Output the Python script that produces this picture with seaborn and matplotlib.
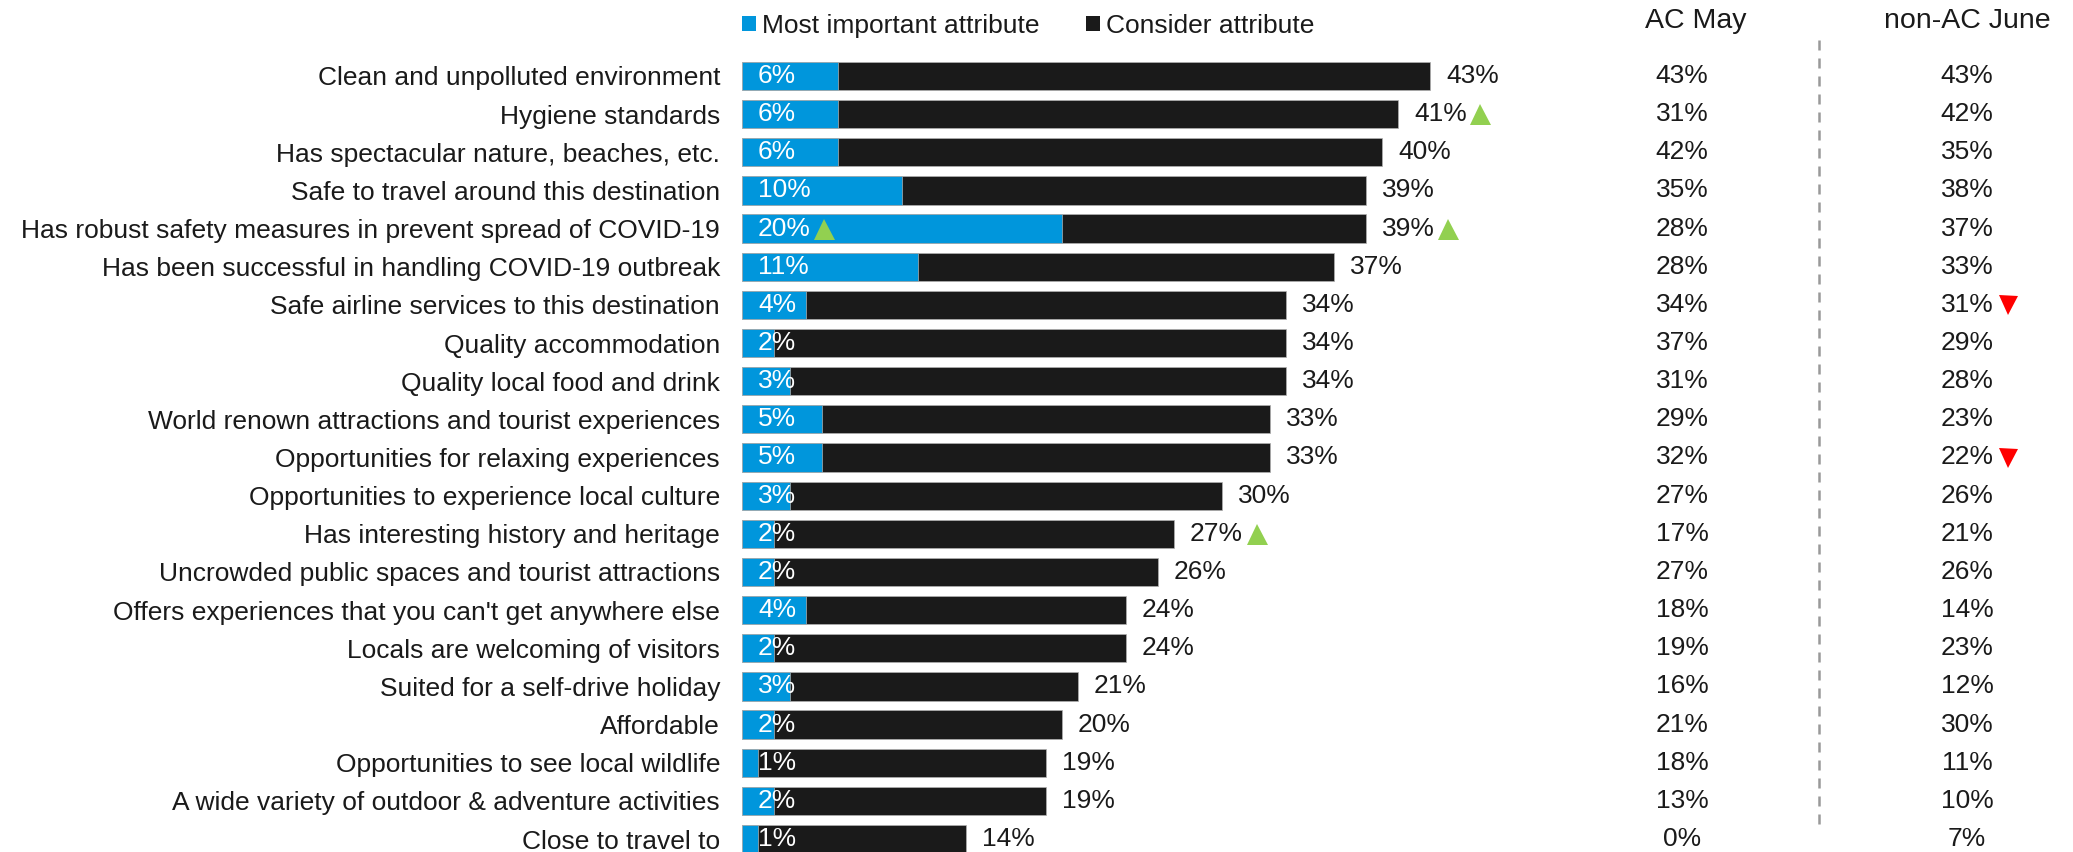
import matplotlib
matplotlib.use("Agg")
import matplotlib.pyplot as plt
from matplotlib.patches import Patch
from matplotlib.lines import Line2D
from matplotlib.transforms import blended_transform_factory
import seaborn as sns
import pandas as pd

# ---- data -----------------------------------------------------------------
attributes = [
    "Clean and unpolluted environment",
    "Hygiene standards",
    "Has spectacular nature, beaches, etc.",
    "Safe to travel around this destination",
    "Has robust safety measures in prevent spread of COVID-19",
    "Has been successful in handling COVID-19 outbreak",
    "Safe airline services to this destination",
    "Quality accommodation",
    "Quality local food and drink",
    "World renown attractions and tourist experiences",
    "Opportunities for relaxing experiences",
    "Opportunities to experience local culture",
    "Has interesting history and heritage",
    "Uncrowded public spaces and tourist attractions",
    "Offers experiences that you can't get anywhere else",
    "Locals are welcoming of visitors",
    "Suited for a self-drive holiday",
    "Affordable",
    "Opportunities to see local wildlife",
    "A wide variety of outdoor & adventure activities",
    "Close to travel to",
]
most_important = [6, 6, 6, 10, 20, 11, 4, 2, 3, 5, 5, 3, 2, 2, 4, 2, 3, 2, 1, 2, 1]
consider = [43, 41, 40, 39, 39, 37, 34, 34, 34, 33, 33, 30, 27, 26, 24, 24, 21, 20, 19, 19, 14]
ac_may = [43, 31, 42, 35, 28, 28, 34, 37, 31, 29, 32, 27, 17, 27, 18, 19, 16, 21, 18, 13, 0]
non_ac_june = [43, 42, 35, 38, 37, 33, 31, 29, 28, 23, 22, 26, 21, 26, 14, 23, 12, 30, 11, 10, 7]

# significance flags: +1 significantly higher, -1 significantly lower
most_flag = [0, 0, 0, 0, 1, 0, 0, 0, 0, 0, 0, 0, 0, 0, 0, 0, 0, 0, 0, 0, 0]
consider_flag = [0, 1, 0, 0, 1, 0, 0, 0, 0, 0, 0, 0, 1, 0, 0, 0, 0, 0, 0, 0, 0]
june_flag = [0, 0, 0, 0, 0, 0, -1, 0, 0, 0, -1, 0, 0, 0, 0, 0, 0, 0, 0, 0, 0]

legend_labels = ["Most important attribute", "Consider attribute"]
column_headers = ["AC May", "non-AC June"]

# ---- style ----------------------------------------------------------------
BLUE = "#0096DC"
DARK = "#1a1a1a"
TEXT = "#1a1a1a"
GREEN = "#92D050"
RED = "#FF0000"
FS = 19

sns.set_theme(style="white")
plt.rcParams["font.family"] = ["Liberation Sans", "DejaVu Sans"]
plt.rcParams["text.color"] = TEXT

W, H = 2073, 852
fig = plt.figure(figsize=(W / 100, H / 100), dpi=100)

# bar axes: 16 px per percentage point, rows 38.15 px apart
left_px, right_px = 742, 1620
top_px, bot_px = 56.9, 858.1
ax = fig.add_axes([left_px / W, 1 - bot_px / H,
                   (right_px - left_px) / W, (bot_px - top_px) / H])

df = pd.DataFrame({"attribute": attributes,
                   "most": most_important,
                   "consider": consider})

sns.barplot(data=df, x="consider", y="attribute", order=attributes,
            color=DARK, width=0.74, orient="h", ax=ax, saturation=1,
            edgecolor="#b0b0b0", linewidth=0.5)
sns.barplot(data=df, x="most", y="attribute", order=attributes,
            color=BLUE, width=0.74, orient="h", ax=ax, saturation=1,
            edgecolor="#b0b0b0", linewidth=0.5)

ax.set_xlim(0, (right_px - left_px) / 16)
ax.set_ylim(len(attributes) - 0.5, -0.5)
ax.set_xlabel("")
ax.set_ylabel("")
ax.set_xticks([])
for s in ax.spines.values():
    s.set_visible(False)
ax.tick_params(axis="y", length=0, pad=15.8, labelsize=FS, labelcolor=TEXT)

# value labels on the bars
pad = 16 * 0.72  # 16 px in points
most_texts, total_texts = [], []
for i in range(len(attributes)):
    t1 = ax.annotate(f"{most_important[i]}%", xy=(0, i), xytext=(pad, 0),
                     textcoords="offset points", ha="left", va="center",
                     color="white", fontsize=FS)
    t2 = ax.annotate(f"{consider[i]}%", xy=(consider[i], i), xytext=(pad, 0),
                     textcoords="offset points", ha="left", va="center",
                     color=TEXT, fontsize=FS)
    most_texts.append(t1)
    total_texts.append(t2)

# comparison columns
col_x = [1682 / W, 1967 / W]
trans = blended_transform_factory(fig.transFigure, ax.transData)
june_texts = []
for i in range(len(attributes)):
    ax.text(col_x[0], i, f"{ac_may[i]}%", transform=trans, ha="center",
            va="center", fontsize=FS, color=TEXT, clip_on=False)
    tj = ax.text(col_x[1], i, f"{non_ac_june[i]}%", transform=trans,
                 ha="center", va="center", fontsize=FS, color=TEXT,
                 clip_on=False)
    june_texts.append(tj)

fig.text(1696 / W, 1 - 21 / H, column_headers[0], ha="center", va="center",
         fontsize=20.5, color=TEXT)
fig.text(1967 / W, 1 - 21 / H, column_headers[1], ha="center", va="center",
         fontsize=20.5, color=TEXT)

# dashed separator between the two columns
fig.add_artist(Line2D([1819 / W, 1819 / W], [1 - 40 / H, 1 - 828 / H],
                      transform=fig.transFigure, color="#999999", lw=1.8,
                      linestyle=(0, (4, 3.2))))

# legend
handles = [Patch(facecolor=BLUE, edgecolor="none"),
           Patch(facecolor=DARK, edgecolor="none")]
fig.legend(handles, legend_labels, loc="center left",
           bbox_to_anchor=(left_px / W, 1 - 26 / H), ncol=2, frameon=False,
           fontsize=FS, handlelength=0.53, handleheight=0.53,
           handletextpad=0.23, columnspacing=1.75, borderpad=0,
           borderaxespad=0)

# significance markers placed right after their labels
fig.canvas.draw()
inv = ax.transData.inverted()


def mark_after(text_artist, row, color, marker, size_px, gap_px):
    bb = text_artist.get_window_extent()
    x_disp = bb.x1 + gap_px + size_px / 2
    x_data = inv.transform((x_disp, 0))[0]
    ax.plot([x_data], [row], marker=marker, color=color, linestyle="none",
            markersize=size_px * 0.72, markeredgewidth=0, clip_on=False)


for i in range(len(attributes)):
    if most_flag[i] > 0:
        mark_after(most_texts[i], i, GREEN, "^", 21, 3)
    if consider_flag[i] > 0:
        mark_after(total_texts[i], i, GREEN, "^", 21, 3)
    if june_flag[i] < 0:
        mark_after(june_texts[i], i, RED, "v", 19, 5)

fig.savefig("out.png", dpi=100)
